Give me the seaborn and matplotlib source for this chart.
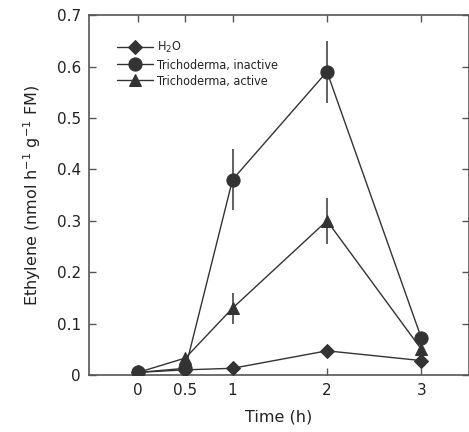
import matplotlib
matplotlib.use("Agg")
import matplotlib.pyplot as plt
import seaborn as sns
import pandas as pd

time_h = [0, 0.5, 1, 2, 3]
h2o = [0.005, 0.010, 0.013, 0.047, 0.028]
h2o_err = [0, 0, 0, 0, 0]
tri_inactive = [0.005, 0.013, 0.380, 0.590, 0.072]
tri_inactive_err = [0, 0, 0.060, 0.060, 0.010]
tri_active = [0.005, 0.033, 0.130, 0.300, 0.050]
tri_active_err = [0, 0, 0.030, 0.045, 0.008]

series_names = ["H$_2$O", "Trichoderma, inactive", "Trichoderma, active"]
series_vals = [h2o, tri_inactive, tri_active]
series_errs = [h2o_err, tri_inactive_err, tri_active_err]
markers = ["D", "o", "^"]
sizes = [7.5, 9.5, 8.5]

rows = []
for name, vals in zip(series_names, series_vals):
    for t, v in zip(time_h, vals):
        rows.append({"Time": t, "Ethylene": v, "Treatment": name})
df = pd.DataFrame(rows)

sns.set_style("ticks")
plt.rcParams["font.family"] = ["DejaVu Sans"]
color = "#333333"

fig = plt.figure(figsize=(4.69, 4.32), dpi=100)
ax = fig.add_axes([0.19, 0.132, 0.809, 0.833])

for name, vals, errs, m, s in zip(series_names, series_vals, series_errs, markers, sizes):
    ax.errorbar(time_h, vals, yerr=errs, fmt="none", ecolor="#555555",
                elinewidth=1.3, capsize=0, zorder=2)
    sub = df[df["Treatment"] == name]
    sns.lineplot(data=sub, x="Time", y="Ethylene", ax=ax, color=color,
                 marker=m, markersize=s, markeredgecolor=color,
                 linewidth=1.0, label=name, zorder=3)

ax.set_xlim(-0.52, 3.5)
ax.set_ylim(0, 0.7)
ax.set_xticks(time_h)
ax.set_xticklabels(["0", "0.5", "1", "2", "3"])
ax.set_yticks([0, 0.1, 0.2, 0.3, 0.4, 0.5, 0.6, 0.7])
ax.set_yticklabels(["0", "0.1", "0.2", "0.3", "0.4", "0.5", "0.6", "0.7"])
ax.tick_params(direction="in", top=True, right=True, length=5, width=1,
               color="#555555", labelsize=11, labelcolor="#222222", pad=6)
for sp in ax.spines.values():
    sp.set_color("#555555")
    sp.set_linewidth(1.2)

ax.set_xlabel("Time (h)", fontsize=11.5, color="#222222", labelpad=8)
ax.set_ylabel("Ethylene (nmol h$^{-1}$ g$^{-1}$ FM)", fontsize=11.5,
              color="#222222", labelpad=10)

leg = ax.legend(loc="upper left", bbox_to_anchor=(0.073, 0.93), frameon=False,
                prop={"family": "DejaVu Sans", "size": 9.0, "stretch": "condensed"},
                handlelength=2.9, handletextpad=0.35,
                labelspacing=0.25, borderaxespad=0, borderpad=0)
for t in leg.get_texts():
    t.set_color("#222222")

fig.savefig("out.png", dpi=100)
